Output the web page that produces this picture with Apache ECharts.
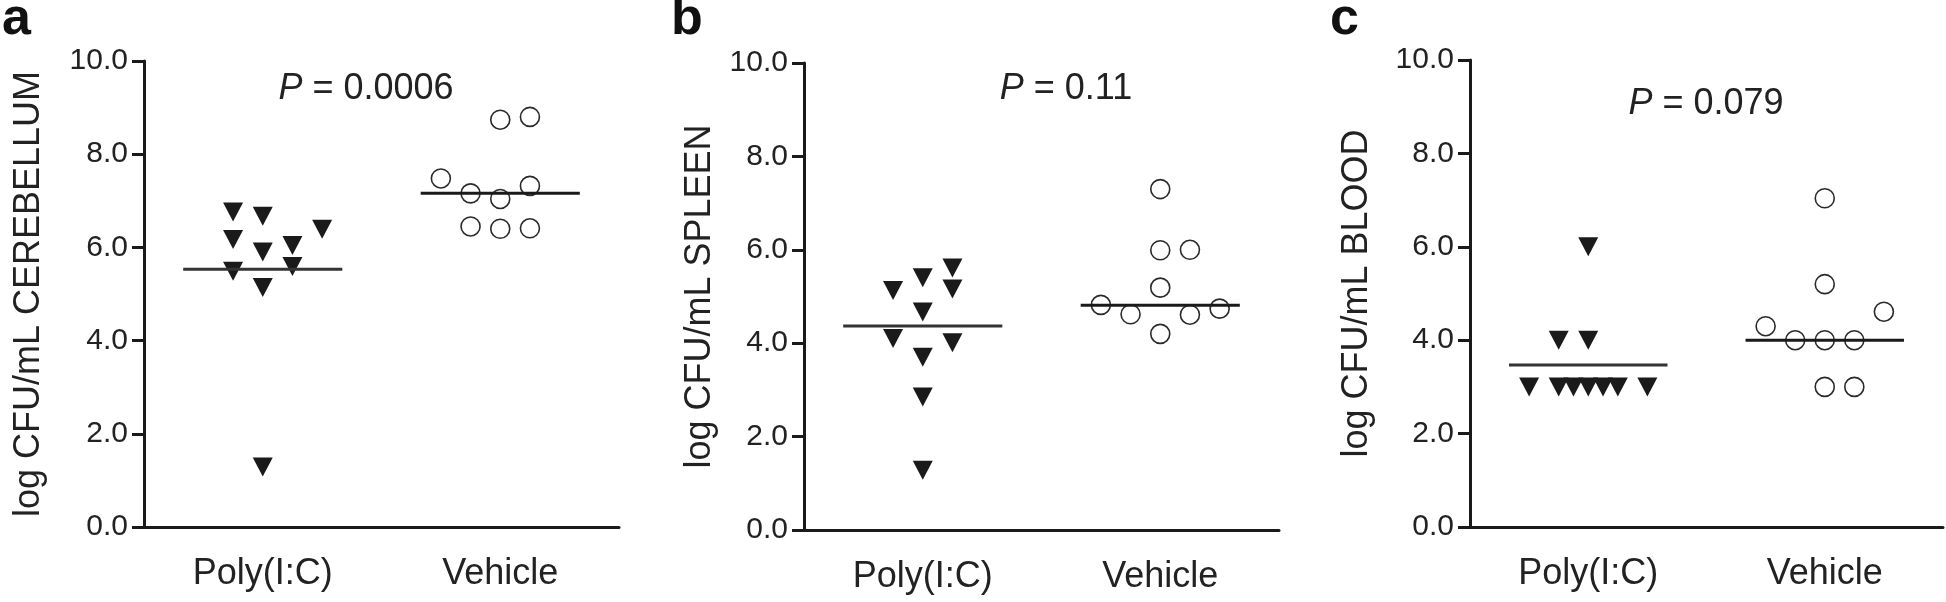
<!DOCTYPE html>
<html><head><meta charset="utf-8">
<script src="https://cdn.jsdelivr.net/npm/echarts@6/dist/echarts.min.js"></script>
<style>html,body{margin:0;padding:0;background:#fff}#c{width:1946px;height:602px}</style>
</head><body><div id="c"></div>
<script>
// ---------- data ----------
const categories = ['Poly(I:C)', 'Vehicle'];
const yTickLabels = ['0.0', '2.0', '4.0', '6.0', '8.0', '10.0'];
const panelLetters = ['a', 'b', 'c'];
const yTitles = ['log CFU/mL CEREBELLUM', 'log CFU/mL SPLEEN', 'log CFU/mL BLOOD'];
const pValues = ['0.0006', '0.11', '0.079'];

// panel a (cerebellum)
const polyA = [6.76, 6.17, 5.49, 6.67, 5.90, 5.14, 1.29, 6.04, 5.59, 6.39];
const polyAColumn = [-1, -1, -1, 0, 0, 0, 0, 1, 1, 2];
const vehA = [7.48, 7.16, 6.45, 8.74, 7.04, 6.40, 8.80, 7.32, 6.41];
const vehAColumn = [-2, -1, -1, 0, 0, 0, 1, 1, 1];
const lineA = [5.53, 7.16];

// panel b (spleen)
const polyB = [5.13, 4.10, 5.40, 4.67, 3.70, 2.85, 1.28, 5.61, 5.16, 4.01];
const polyBColumn = [-1, -1, 0, 0, 0, 0, 0, 1, 1, 1];
const vehB = [4.82, 4.62, 7.30, 5.99, 5.19, 4.20, 6.00, 4.61, 4.74];
const vehBColumn = [-2, -1, 0, 0, 0, 0, 1, 1, 2];
const lineB = [4.37, 4.81];

// panel c (blood)
const polyC = [3.0, 3.0, 3.0, 3.0, 3.0, 3.0, 3.0, 4.0, 4.0, 6.0];
const polyCColumn = [-2, -1, -0.5, 0, 0.5, 1, 2, -1, 0, 0];
const vehC = [4.30, 4.0, 7.04, 5.20, 4.0, 3.0, 4.0, 3.0, 4.61];
const vehCColumn = [-2, -1, 0, 0, 0, 0, 1, 1, 2];
const lineC = [3.47, 4.0];

// ---------- layout / style ----------
const FONT = '"Liberation Sans", Arial, Helvetica, sans-serif';
const INK = '#1a1a1a';
const COL_STEP = 0.25;      // jitter column width in x units
const LINE_HALF = 0.67;     // half-width of the group line in x units
const catPos = [1, 3];

const panels = [
  { poly: polyA, polyCol: polyAColumn, veh: vehA, vehCol: vehAColumn, lines: lineA,
    grid: { left: 144, top: 61, width: 475, height: 466 }, nameGap: 97, pPos: [366, 89] },
  { poly: polyB, polyCol: polyBColumn, veh: vehB, vehCol: vehBColumn, lines: lineB,
    grid: { left: 804, top: 63, width: 475, height: 467 }, nameGap: 86, pPos: [1066, 89] },
  { poly: polyC, polyCol: polyCColumn, veh: vehC, vehCol: vehCColumn, lines: lineC,
    grid: { left: 1470, top: 60, width: 475, height: 467 }, nameGap: 95, pPos: [1706, 104] }
];
const letterPos = [[2, 20], [671, 20], [1330, 20]];

const grids = [], xAxes = [], yAxes = [], series = [], graphics = [];
panels.forEach((p, i) => {
  grids.push(Object.assign({ containLabel: false }, p.grid));
  xAxes.push({
    gridIndex: i, type: 'value', min: 0, max: 4, interval: 1,
    axisLine: { show: true, lineStyle: { color: INK, width: 3 } },
    axisTick: { show: false }, splitLine: { show: false },
    axisLabel: {
      margin: 29, fontSize: 36, color: '#222', fontFamily: FONT,
      formatter: v => (v === catPos[0] ? categories[0] : v === catPos[1] ? categories[1] : '')
    }
  });
  yAxes.push({
    gridIndex: i, type: 'value', min: 0, max: 10, interval: 2,
    axisLine: { show: true, lineStyle: { color: INK, width: 3 } },
    axisTick: { show: true, inside: false, length: 12, lineStyle: { color: INK, width: 3 } },
    splitLine: { show: false },
    axisLabel: { margin: 16, fontSize: 30, color: '#222', fontFamily: FONT,
      formatter: v => yTickLabels[Math.round(v / 2)] },
    name: yTitles[i], nameLocation: 'middle', nameGap: p.nameGap,
    nameTextStyle: { fontSize: 36, color: '#222', fontFamily: FONT }
  });
  series.push({
    type: 'scatter', xAxisIndex: i, yAxisIndex: i,
    symbol: 'triangle', symbolRotate: 180, symbolSize: [20, 19],
    itemStyle: { color: INK, opacity: 1 }, z: 3,
    data: p.poly.map((v, k) => [catPos[0] + p.polyCol[k] * COL_STEP, v])
  });
  series.push({
    type: 'scatter', xAxisIndex: i, yAxisIndex: i,
    symbol: 'circle', symbolSize: 19,
    itemStyle: { color: '#fff', borderColor: '#2a2a2a', borderWidth: 1.6, opacity: 1 }, z: 3,
    data: p.veh.map((v, k) => [catPos[1] + p.vehCol[k] * COL_STEP, v])
  });
  p.lines.forEach((v, k) => {
    series.push({
      type: 'line', xAxisIndex: i, yAxisIndex: i, symbol: 'none', z: 4,
      lineStyle: { color: k === 0 ? '#333' : INK, width: 3 },
      data: [[catPos[k] - LINE_HALF, v], [catPos[k] + LINE_HALF, v]]
    });
  });
  graphics.push({
    type: 'text', x: letterPos[i][0], y: letterPos[i][1],
    style: { text: panelLetters[i], font: 'bold 52px ' + FONT, fill: '#111',
      align: 'left', verticalAlign: 'middle' }
  });
  graphics.push({
    type: 'text', x: p.pPos[0], y: p.pPos[1],
    style: { text: '{i|P} = ' + pValues[i], fill: '#222', fontSize: 36, fontFamily: FONT,
      align: 'center', verticalAlign: 'middle',
      rich: { i: { fontStyle: 'italic', fontSize: 36, fontFamily: FONT, fill: '#222' } } }
  });
});

const chart = echarts.init(document.getElementById('c'), null, { renderer: 'canvas' });
chart.setOption({
  animation: false, backgroundColor: '#fff',
  textStyle: { fontFamily: FONT },
  grid: grids, xAxis: xAxes, yAxis: yAxes, series: series, graphic: graphics
});
</script></body></html>
